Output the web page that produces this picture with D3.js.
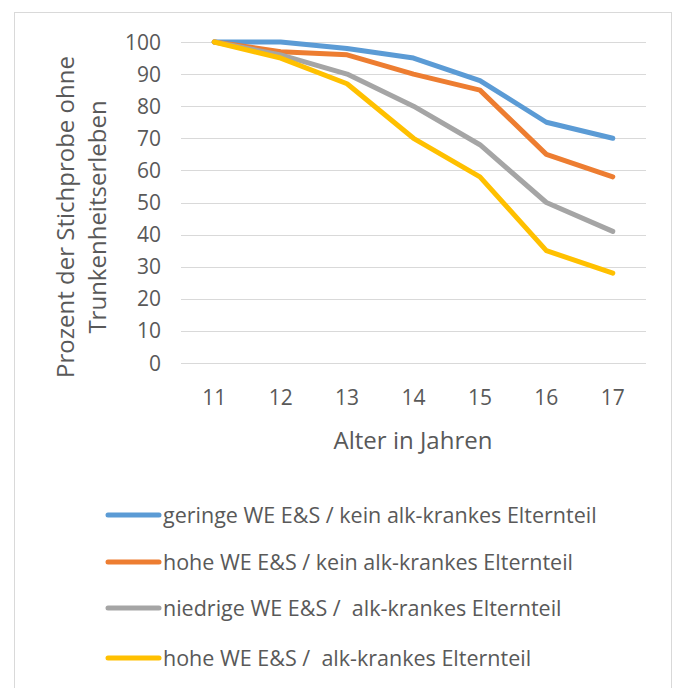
<!DOCTYPE html>
<html>
<head>
<meta charset="utf-8">
<script src="https://cdn.jsdelivr.net/npm/d3@7"></script>
<style>
  body { margin: 0; background: #fff; }
  text { font-family: "Open Sans", sans-serif; fill: #595959; white-space: pre; }
</style>
</head>
<body>
<div id="chart"></div>
<script>
// data
const ages = ["11", "12", "13", "14", "15", "16", "17"];
const seriesNames = [
  "geringe WE E&S / kein alk-krankes Elternteil",
  "hohe WE E&S / kein alk-krankes Elternteil",
  "niedrige WE E&S /  alk-krankes Elternteil",
  "hohe WE E&S /  alk-krankes Elternteil"
];
const geringeKein = [100, 100, 98, 95, 88, 75, 70];
const hoheKein = [100, 97, 96, 90, 85, 65, 58];
const niedrigeAlk = [100, 96, 90, 80, 68, 50, 41];
const hoheAlk = [100, 95, 87, 70, 58, 35, 28];
const yTicks = [0, 10, 20, 30, 40, 50, 60, 70, 80, 90, 100];
const colors = ["#5B9BD5", "#ED7D31", "#A5A5A5", "#FFC000"];

const series = [geringeKein, hoheKein, niedrigeAlk, hoheAlk].map((v, i) => ({
  name: seriesNames[i], values: v, color: colors[i]
}));

const width = 676, height = 688;

const svg = d3.select("#chart").append("svg")
  .attr("width", width)
  .attr("height", height);

// outer chart frame
svg.append("rect")
  .attr("x", 14.5).attr("y", 12.5)
  .attr("width", 657).attr("height", 700)
  .attr("fill", "none")
  .attr("stroke", "#D9D9D9")
  .attr("stroke-width", 1);

const x = d3.scaleBand().domain(ages).range([181, 646]);
const y = d3.scaleLinear().domain([0, 100]).range([363, 42]);

// gridlines
svg.append("g").selectAll("line")
  .data(yTicks)
  .enter().append("line")
  .attr("x1", 181).attr("x2", 646)
  .attr("y1", d => Math.round(y(d)) + 0.5)
  .attr("y2", d => Math.round(y(d)) + 0.5)
  .attr("stroke", "#D9D9D9")
  .attr("stroke-width", 1);

// y tick labels
svg.append("g").selectAll("text")
  .data(yTicks)
  .enter().append("text")
  .attr("x", 161)
  .attr("y", d => y(d))
  .attr("dy", "0.36em")
  .attr("text-anchor", "end")
  .style("font-size", "21px")
  .text(d => d);

// x tick labels
svg.append("g").selectAll("text")
  .data(ages)
  .enter().append("text")
  .attr("x", d => x(d) + x.bandwidth() / 2)
  .attr("y", 397)
  .attr("dy", "0.36em")
  .attr("text-anchor", "middle")
  .style("font-size", "21px")
  .text(d => d);

// axis titles
svg.append("text")
  .attr("x", 413).attr("y", 440)
  .attr("dy", "0.36em")
  .attr("text-anchor", "middle")
  .style("font-size", "24px")
  .text("Alter in Jahren");

const yTitle = svg.append("text")
  .attr("transform", "translate(74,217) rotate(-90)")
  .attr("text-anchor", "middle")
  .style("font-size", "24px");
yTitle.append("tspan").attr("x", 0).attr("y", 0).text("Prozent der Stichprobe ohne");
yTitle.append("tspan").attr("x", 0).attr("y", 32).text("Trunkenheitserleben");

// lines
const line = d3.line()
  .x((d, i) => x(ages[i]) + x.bandwidth() / 2)
  .y(d => y(d));

svg.append("g").selectAll("path")
  .data(series)
  .enter().append("path")
  .attr("d", d => line(d.values))
  .attr("fill", "none")
  .attr("stroke", d => d.color)
  .attr("stroke-width", 5)
  .attr("stroke-linejoin", "round")
  .attr("stroke-linecap", "round");

// legend
const legendY = [515, 562, 608, 658];
const legend = svg.append("g").selectAll("g")
  .data(series)
  .enter().append("g")
  .attr("transform", (d, i) => `translate(0,${legendY[i]})`);

legend.append("line")
  .attr("x1", 108).attr("x2", 159)
  .attr("stroke", d => d.color)
  .attr("stroke-width", 5)
  .attr("stroke-linecap", "round");

legend.append("text")
  .attr("x", 163)
  .attr("dy", "0.36em")
  .style("font-size", "21.5px")
  .text(d => d.name);
</script>
</body>
</html>
